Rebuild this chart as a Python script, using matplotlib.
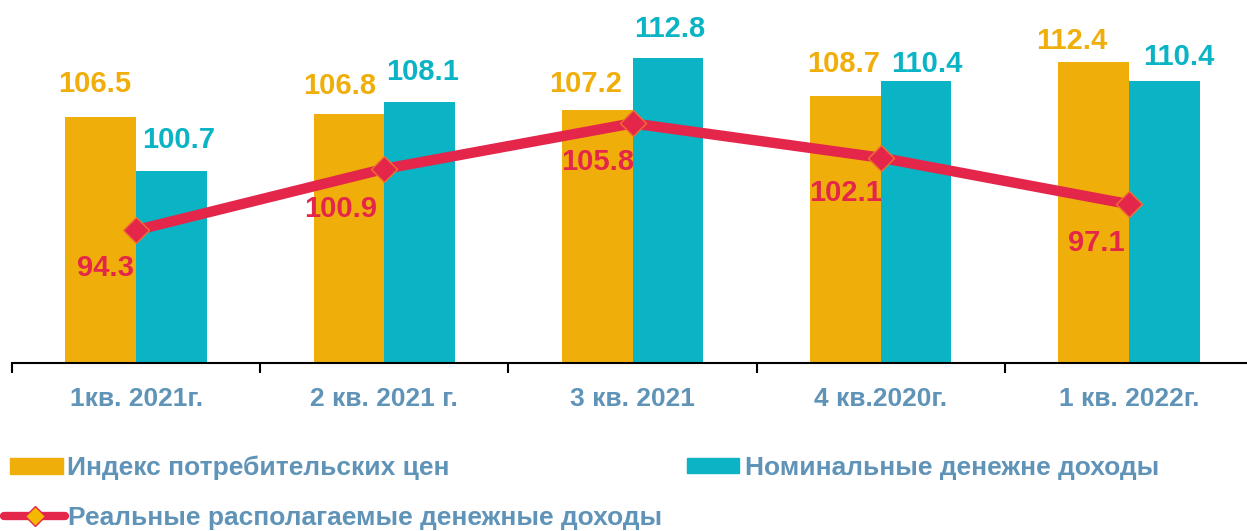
import numpy as np
import matplotlib
matplotlib.use("Agg")
import matplotlib.pyplot as plt
from matplotlib.lines import Line2D
from matplotlib.patches import Patch

plt.rcParams['font.family'] = ['Liberation Sans', 'DejaVu Sans']
plt.rcParams['font.weight'] = 'bold'

# data
periods = ['1кв. 2021г.', '2 кв. 2021 г.', '3 кв. 2021', '4 кв.2020г.', '1 кв. 2022г.']
cpi = [106.5, 106.8, 107.2, 108.7, 112.4]
nominal = [100.7, 108.1, 112.8, 110.4, 110.4]
real = [94.3, 100.9, 105.8, 102.1, 97.1]

c_yel = '#F0AE0A'
c_teal = '#0AB4C4'
c_red = '#E3264A'
c_txt = '#5F93B7'

# hand-placed data label offsets (pixels) as in the original
off_cpi = [(-6, 33), (-9, 28), (-12, 26), (-2, 32), (-22, 21)]
off_nom = [(7, 31), (3, 30), (2, 29), (11, 17), (15, 24)]
off_real = [(-31, -38), (-44, -40), (-35, -39), (-35, -35), (-33, -39)]

fig = plt.figure(figsize=(12.47, 5.31), dpi=100)
ax = fig.add_axes([12 / 1247, 168 / 531, 1241 / 1247, 353 / 531])

x = np.arange(len(periods))
w = 0.285
ax.bar(x - w / 2, cpi, w, color=c_yel, zorder=2)
ax.bar(x + w / 2, nominal, w, color=c_teal, zorder=2)
ax.plot(x, real, color=c_red, lw=7.5, marker='D', ms=13,
        mfc=c_red, mec='#F07030', mew=1, zorder=3, solid_capstyle='round')

for i in range(len(x)):
    ax.annotate(f'{cpi[i]}', (x[i] - w / 2, cpi[i]), xytext=off_cpi[i],
                textcoords='offset pixels', ha='center', va='center',
                color=c_yel, fontsize=21, fontweight='bold')
    ax.annotate(f'{nominal[i]}', (x[i] + w / 2, nominal[i]), xytext=off_nom[i],
                textcoords='offset pixels', ha='center', va='center',
                color=c_teal, fontsize=21, fontweight='bold')
    ax.annotate(f'{real[i]}', (x[i], real[i]), xytext=off_real[i],
                textcoords='offset pixels', ha='center', va='center',
                color=c_red, fontsize=21, fontweight='bold')

ax.set_xlim(-0.5, len(x) - 0.5)
ax.set_ylim(80, 118)
for s in ['top', 'right', 'left']:
    ax.spines[s].set_visible(False)
ax.spines['bottom'].set_linewidth(1.5)
ax.set_yticks([])
ax.set_xticks(x)
ax.set_xticklabels(periods, color=c_txt, fontsize=19, fontweight='bold')
ax.tick_params(axis='x', length=0, pad=17)
ax.set_xticks(np.arange(len(x) + 1) - 0.5, minor=True)
ax.tick_params(axis='x', which='minor', length=7, width=1.5, direction='out')

# legend
fs = 19
em = fs * 100 / 72
h1 = Patch(color=c_yel)
h2 = Patch(color=c_teal)
h3 = Line2D([], [], color=c_red, lw=6, marker='D', ms=10, mfc='#F5B800', mec=c_red,
            solid_capstyle='round')
kw = dict(frameon=False, prop={'size': fs, 'weight': 'bold'}, borderaxespad=0,
          labelcolor=c_txt, loc='center left')
fig.legend([h1], ['Индекс потребительских цен'], handlelength=53 / em,
           handleheight=15 / em, handletextpad=4 / em,
           bbox_to_anchor=((10 - 0.4 * em) / 1247, 1 - 468 / 531), **kw)
fig.legend([h2], ['Номинальные денежне доходы'], handlelength=52 / em,
           handleheight=14 / em, handletextpad=6 / em,
           bbox_to_anchor=((687 - 0.4 * em) / 1247, 1 - 468 / 531), **kw)
fig.legend([h3], ['Реальные располагаемые денежные доходы'], handlelength=61 / em,
           handletextpad=3 / em,
           bbox_to_anchor=((4 - 0.4 * em) / 1247, 1 - 518 / 531), **kw)

fig.savefig('out.png', dpi=100)
